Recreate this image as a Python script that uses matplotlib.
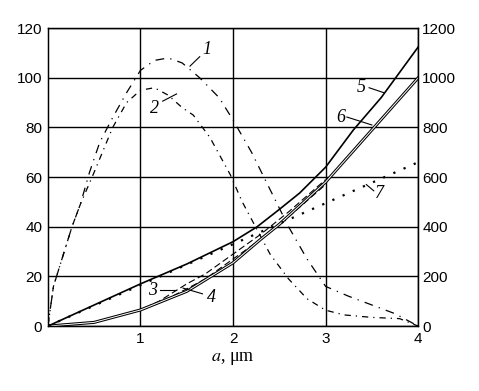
import matplotlib
matplotlib.use("Agg")
import matplotlib.pyplot as plt

plt.rcParams["mathtext.fontset"] = "stix"

# curves 1 and 2 (dash-dot, left scale)
x1 = [0, 0.06, 0.26, 0.35, 0.45, 0.56, 0.7, 0.85, 1.0, 1.15, 1.3, 1.45, 1.64, 1.85, 2.0,
      2.2, 2.4, 2.6, 2.8, 3.0, 3.25, 3.5, 3.75, 4.0]
y1 = [0, 16, 40, 49, 62, 74, 84, 94, 103, 107, 108, 106, 100, 92, 83,
      70, 55, 40, 27, 16, 12, 8.5, 5, 0]
x2 = [0, 0.06, 0.26, 0.35, 0.5, 0.7, 0.85, 1.0, 1.15, 1.3, 1.45, 1.57, 1.75, 1.97, 2.1,
      2.2, 2.4, 2.6, 2.8, 3.0, 3.2, 3.5, 3.8, 4.0]
y2 = [0, 16, 40, 49, 62, 80, 90, 95, 96, 93, 88, 85, 76, 61, 50,
      43, 29, 19, 11, 6.4, 4.5, 3.5, 3, 0]

# curves 3 and 4 (dashed)
x3 = [0, 0.5, 1.0, 1.2, 1.5, 1.7, 2.0, 2.3, 2.6, 3.0]
y3 = [0, 1.5, 6.5, 9.3, 15, 19, 27, 35, 44, 57]
x4 = [0, 0.5, 1.0, 1.2, 1.5, 1.7, 2.0, 2.3, 2.6, 3.0]
y4 = [0, 1.5, 6.5, 10, 17, 21, 29, 37, 46, 59]

# curve 5 (solid), 6 (double line), 7 (dotted)
x5 = [0, 0.5, 1.0, 1.5, 2.0, 2.26, 2.5, 2.72, 3.0, 3.3, 3.6, 4.0]
y5 = [0, 8.5, 17, 25, 34, 40, 47, 53.6, 64, 79, 92, 112.4]
x6 = [0, 0.5, 1.0, 1.5, 2.0, 2.3, 2.5, 2.75, 3.0, 3.5, 4.0]
y6 = [0, 1.5, 6.5, 14, 25.5, 35, 41, 49.5, 58, 79, 100]
x7 = [0, 4.0]
y7 = [0, 66]

left_ticks = [0, 20, 40, 60, 80, 100, 120]
right_ticks = [0, 200, 400, 600, 800, 1000, 1200]
x_ticks = [1, 2, 3, 4]

fig = plt.figure(figsize=(4.79, 3.91), dpi=100)
ax = fig.add_axes([0.100, 0.166, 0.773, 0.762])

ax.plot(x1, y1, color="black", lw=0.9, dashes=(7, 5, 1, 5))
ax.plot(x2, y2, color="black", lw=0.9, dashes=(5, 4, 1, 4))
ax.plot(x3, y3, color="black", lw=0.8, dashes=(6, 3))
ax.plot(x4, y4, color="black", lw=0.8, dashes=(6, 3))
ax.plot(x6, y6, color="black", lw=2.2)
ax.plot(x6, y6, color="white", lw=0.7)
ax.plot(x5, y5, color="black", lw=1.2)
ax.plot(x7, y7, color="black", lw=1.6, linestyle=(0, (1, 4)))

ax.set_xlim(0, 4)
ax.set_ylim(0, 120)
ax.set_xticks(x_ticks)
ax.set_yticks(left_ticks)
ax.grid(True, color="black", lw=1.0)
ax.tick_params(length=0, labelsize=11, pad=4)
for s in ax.spines.values():
    s.set_linewidth(1.0)

ax2 = ax.twinx()
ax2.set_ylim(0, 1200)
ax2.set_yticks(right_ticks)
ax2.tick_params(length=0, labelsize=11, pad=3)

for lab in ax.get_xticklabels() + ax.get_yticklabels() + ax2.get_yticklabels():
    lab.set_fontfamily("Liberation Sans")

ax.set_xlabel(r"$a$, μm", fontsize=13, fontfamily="Liberation Serif", labelpad=3)

# curve labels with leader lines
lab_font = dict(fontsize=13, fontstyle="italic", fontfamily="Liberation Serif",
                ha="center", va="center")
labels = [("1", 1.72, 111.5, (1.535, 104.7), (1.64, 108.5)),
          ("2", 1.15, 87.5, (1.24, 90.6), (1.39, 93.5)),
          ("3", 1.13, 14.5, (1.21, 14.5), (1.38, 14.5)),
          ("4", 1.77, 11.5, (1.46, 15.3), (1.67, 13.0)),
          ("5", 3.39, 96.0, (3.47, 96.0), (3.63, 94.0)),
          ("6", 3.16, 84.0, (3.23, 84.2), (3.50, 81.0)),
          ("7", 3.58, 53.5, (3.44, 57.0), (3.52, 54.5))]
for txt, tx, ty, p0, p1 in labels:
    ax.text(tx, ty, txt, **lab_font)
    ax.plot([p0[0], p1[0]], [p0[1], p1[1]], color="black", lw=0.8)

fig.savefig("out.png", dpi=100)
